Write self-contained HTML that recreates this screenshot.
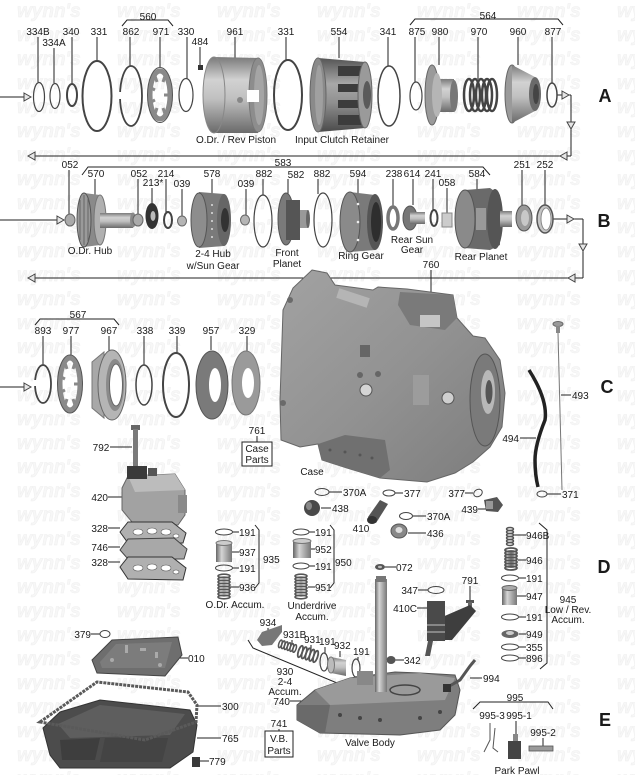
<!DOCTYPE html>
<html><head><meta charset="utf-8">
<style>
html,body{margin:0;padding:0;background:#fff;}
svg{display:block}
text{font-family:"Liberation Sans",Arial,sans-serif;font-size:10px;fill:#1a1a1a}
.m{text-anchor:middle}
.e{text-anchor:end}
.L{font-size:18px;font-weight:bold}
.wm{font-size:19px;font-weight:bold;font-style:italic;fill:#f7f7f7;stroke:#efefef;stroke-width:.5}
.ld line,.ld path,.ld polyline{stroke:#222;stroke-width:1;fill:none}
.ar{fill:#e6e6e6;stroke:#444;stroke-width:1}
.rg{fill:none;stroke:#444}
</style></head><body>
<svg width="635" height="775" viewBox="0 0 635 775" xmlns="http://www.w3.org/2000/svg">
<defs>
<pattern id="wmp" width="100" height="24" patternUnits="userSpaceOnUse">
<text x="17" y="17" class="wm">wynn's</text>
</pattern>
<linearGradient id="gH" x1="0" y1="0" x2="0" y2="1">
<stop offset="0" stop-color="#7a7a7a"/><stop offset=".3" stop-color="#d2d2d2"/><stop offset=".55" stop-color="#c0c0c0"/><stop offset="1" stop-color="#6a6a6a"/></linearGradient>
<linearGradient id="gHd" x1="0" y1="0" x2="0" y2="1">
<stop offset="0" stop-color="#555"/><stop offset=".35" stop-color="#a8a8a8"/><stop offset=".6" stop-color="#909090"/><stop offset="1" stop-color="#4a4a4a"/></linearGradient>
<linearGradient id="gV" x1="0" y1="0" x2="1" y2="0">
<stop offset="0" stop-color="#666"/><stop offset=".35" stop-color="#d5d5d5"/><stop offset="1" stop-color="#777"/></linearGradient>
<linearGradient id="gCase" x1="0" y1="0" x2="1" y2="1">
<stop offset="0" stop-color="#a2a2a2"/><stop offset=".5" stop-color="#929292"/><stop offset="1" stop-color="#7c7c7c"/></linearGradient>
</defs>
<rect width="635" height="775" fill="#fff"/>
<rect width="635" height="775" fill="url(#wmp)"/>

<!-- ================= ROW A ================= -->
<g class="ld">
<line x1="0" y1="97" x2="24" y2="97"/>
<path d="M122,26 L127,20 L168,20 L173,26"/>
<path d="M410,25 L415,19 L558,19 L563,25"/>
<line x1="38" y1="37" x2="38" y2="82"/>
<line x1="54" y1="48" x2="54" y2="83"/>
<line x1="72" y1="37" x2="72" y2="84"/>
<line x1="97" y1="37" x2="97" y2="61"/>
<line x1="130" y1="37" x2="130" y2="66"/>
<line x1="160" y1="37" x2="160" y2="67"/>
<line x1="187" y1="37" x2="187" y2="79"/>
<line x1="200" y1="47" x2="200" y2="65"/>
<line x1="235" y1="37" x2="235" y2="58"/>
<line x1="286" y1="37" x2="286" y2="60"/>
<line x1="339" y1="37" x2="339" y2="58"/>
<line x1="388" y1="37" x2="388" y2="66"/>
<line x1="415" y1="37" x2="415" y2="82"/>
<line x1="439" y1="37" x2="439" y2="65"/>
<line x1="478" y1="37" x2="478" y2="79"/>
<line x1="518" y1="37" x2="518" y2="65"/>
<line x1="552" y1="37" x2="552" y2="83"/>
<line x1="557" y1="95" x2="562" y2="95"/>
<line x1="569" y1="95" x2="571" y2="95"/>
<line x1="571" y1="95" x2="571" y2="156"/>
<line x1="28" y1="156" x2="571" y2="156"/>
</g>
<polygon class="ar" points="24,93 31,97 24,101"/>
<polygon class="ar" points="562,91 569,95 562,99"/>
<polygon class="ar" points="567,122 571,129 575,122"/>
<polygon class="ar" points="567,152 560,156 567,160"/>
<polygon class="ar" points="35,152 28,156 35,160"/>

<text x="148" y="20" class="m">560</text>
<text x="488" y="19" class="m">564</text>
<text x="38" y="35" class="m">334B</text>
<text x="54" y="46" class="m">334A</text>
<text x="71" y="35" class="m">340</text>
<text x="99" y="35" class="m">331</text>
<text x="131" y="35" class="m">862</text>
<text x="161" y="35" class="m">971</text>
<text x="186" y="35" class="m">330</text>
<text x="200" y="45" class="m">484</text>
<text x="235" y="35" class="m">961</text>
<text x="286" y="35" class="m">331</text>
<text x="339" y="35" class="m">554</text>
<text x="388" y="35" class="m">341</text>
<text x="417" y="35" class="m">875</text>
<text x="440" y="35" class="m">980</text>
<text x="479" y="35" class="m">970</text>
<text x="518" y="35" class="m">960</text>
<text x="553" y="35" class="m">877</text>
<text x="605" y="102" class="m L">A</text>
<text x="236" y="143" class="m">O.Dr. / Rev Piston</text>
<text x="342" y="143" class="m">Input Clutch Retainer</text>

<ellipse class="rg" cx="39" cy="97" rx="5.5" ry="14.5" stroke-width="1.2"/>
<ellipse class="rg" cx="55" cy="96" rx="5" ry="12.5" stroke-width="1.2"/>
<ellipse class="rg" cx="72" cy="95" rx="5" ry="11" stroke-width="2"/>
<ellipse class="rg" cx="97" cy="96" rx="14.5" ry="35" stroke-width="2"/>
<ellipse class="rg" cx="131" cy="96" rx="11" ry="30" stroke-width="1.8"/>
<rect x="118" y="92" width="4" height="7" fill="#fff"/>
<!-- 971 -->
<ellipse cx="160" cy="95" rx="10" ry="24" fill="none" stroke="#8a8a8a" stroke-width="5"/>
<ellipse cx="160" cy="95" rx="12.5" ry="27.5" fill="none" stroke="#555" stroke-width="1"/>
<g stroke="#8a8a8a" stroke-width="3">
<line x1="155" y1="76" x2="157" y2="82"/><line x1="151" y1="88" x2="155" y2="90"/><line x1="151" y1="102" x2="155" y2="100"/>
<line x1="155" y1="114" x2="157" y2="108"/><line x1="165" y1="76" x2="163" y2="82"/><line x1="168" y1="95" x2="164" y2="95"/><line x1="165" y1="114" x2="163" y2="108"/></g>
<ellipse class="rg" cx="186" cy="95" rx="7" ry="16.5" stroke-width="1.2"/>
<rect x="198" y="65" width="5" height="5" fill="#333"/>
<!-- 961 drum -->
<path d="M214,57 L258,58 L258,133 L214,133 Z" fill="url(#gH)"/>
<ellipse cx="214" cy="95" rx="11" ry="38" fill="url(#gH)" stroke="#888" stroke-width="1"/>
<ellipse cx="258" cy="95" rx="9" ry="37" fill="#8d8d8d" stroke="#777"/>
<ellipse cx="259" cy="95" rx="5" ry="30" fill="#a5a5a5"/>
<rect x="247" y="90" width="12" height="12" fill="#fff"/>
<circle cx="240" cy="100" r="3" fill="#888"/>
<ellipse class="rg" cx="288" cy="95" rx="14" ry="35" stroke-width="2"/>
<!-- input clutch retainer -->
<path d="M318,58 L365,62 L365,128 L318,132 Z" fill="url(#gHd)"/>
<ellipse cx="318" cy="95" rx="8" ry="37" fill="#8a8a8a" stroke="#666"/>
<ellipse cx="319" cy="95" rx="4" ry="30" fill="#a0a0a0"/>
<g fill="#3c3c3c"><rect x="338" y="66" width="24" height="10"/><rect x="338" y="84" width="24" height="8"/><rect x="338" y="100" width="24" height="8"/><rect x="338" y="115" width="24" height="10"/></g>
<ellipse cx="365" cy="95" rx="7" ry="33" fill="#9a9a9a" stroke="#666"/>
<ellipse cx="367" cy="95" rx="4" ry="14" fill="#5a5a5a"/>
<ellipse class="rg" cx="389" cy="96" rx="11" ry="30" stroke-width="1.5"/>
<ellipse class="rg" cx="416" cy="96" rx="6" ry="14" stroke-width="1.2"/>
<!-- 980 -->
<ellipse cx="432" cy="95" rx="7" ry="30" fill="#9a9a9a" stroke="#666"/>
<rect x="434" y="79" width="20" height="33" fill="url(#gH)"/>
<ellipse cx="437" cy="95" rx="5" ry="22" fill="#b5b5b5"/>
<ellipse cx="454" cy="96" rx="4" ry="16" fill="#777"/>
<!-- 970 springs -->
<g fill="none" stroke="#444" stroke-width="2.5">
<ellipse cx="469" cy="95" rx="5" ry="16"/><ellipse cx="475" cy="95" rx="5" ry="16"/><ellipse cx="481" cy="95" rx="5" ry="16"/><ellipse cx="487" cy="95" rx="5" ry="16"/><ellipse cx="492" cy="95" rx="5" ry="16"/></g>
<!-- 960 -->
<ellipse cx="512" cy="94" rx="7" ry="29" fill="#9a9a9a" stroke="#666"/>
<path d="M512,65 L535,77 L535,111 L512,123 Z" fill="url(#gH)"/>
<ellipse cx="535" cy="94" rx="6" ry="17" fill="#6a6a6a"/>
<ellipse cx="536" cy="94" rx="3" ry="10" fill="#444"/>
<ellipse class="rg" cx="552" cy="95" rx="5" ry="12" stroke-width="1.5"/>

<!-- ================= ROW B ================= -->
<g class="ld">
<line x1="0" y1="220" x2="57" y2="220"/>
<path d="M82,175 L88,167 L483,167 L490,175"/>
<line x1="69" y1="170" x2="69" y2="215"/>
<line x1="95" y1="179" x2="95" y2="195"/>
<line x1="138" y1="179" x2="138" y2="215"/>
<line x1="152" y1="188" x2="152" y2="203"/>
<line x1="166" y1="179" x2="166" y2="212"/>
<line x1="182" y1="189" x2="182" y2="216"/>
<line x1="212" y1="179" x2="212" y2="194"/>
<line x1="246" y1="189" x2="246" y2="215"/>
<line x1="263" y1="179" x2="263" y2="195"/>
<line x1="288" y1="179" x2="288" y2="196"/>
<line x1="318" y1="179" x2="318" y2="194"/>
<line x1="358" y1="179" x2="358" y2="195"/>
<line x1="393" y1="179" x2="393" y2="207"/>
<line x1="413" y1="179" x2="413" y2="205"/>
<line x1="433" y1="179" x2="433" y2="210"/>
<line x1="447" y1="188" x2="447" y2="213"/>
<line x1="477" y1="179" x2="477" y2="193"/>
<line x1="522" y1="170" x2="522" y2="205"/>
<line x1="545" y1="170" x2="545" y2="205"/>
<line x1="553" y1="219" x2="567" y2="219"/>
<line x1="574" y1="219" x2="583" y2="219"/>
<line x1="583" y1="219" x2="583" y2="278"/>
<line x1="28" y1="278" x2="583" y2="278"/>
</g>
<polygon class="ar" points="57,216 64,220 57,224"/>
<polygon class="ar" points="567,215 574,219 567,223"/>
<polygon class="ar" points="579,244 583,251 587,244"/>
<polygon class="ar" points="575,274 568,278 575,282"/>
<polygon class="ar" points="35,274 28,278 35,282"/>

<text x="70" y="168" class="m">052</text>
<text x="283" y="166" class="m">583</text>
<text x="96" y="177" class="m">570</text>
<text x="139" y="177" class="m">052</text>
<text x="153" y="186" class="m">213*</text>
<text x="166" y="177" class="m">214</text>
<text x="182" y="187" class="m">039</text>
<text x="212" y="177" class="m">578</text>
<text x="246" y="187" class="m">039</text>
<text x="264" y="177" class="m">882</text>
<text x="296" y="178" class="m">582</text>
<text x="322" y="177" class="m">882</text>
<text x="358" y="177" class="m">594</text>
<text x="394" y="177" class="m">238</text>
<text x="412" y="177" class="m">614</text>
<text x="433" y="177" class="m">241</text>
<text x="447" y="186" class="m">058</text>
<text x="477" y="177" class="m">584</text>
<text x="522" y="168" class="m">251</text>
<text x="545" y="168" class="m">252</text>
<text x="604" y="227" class="m L">B</text>
<text x="90" y="254" class="m">O.Dr. Hub</text>
<text x="213" y="257" class="m">2-4 Hub</text>
<text x="213" y="269" class="m">w/Sun Gear</text>
<text x="287" y="256" class="m">Front</text>
<text x="287" y="267" class="m">Planet</text>
<text x="361" y="259" class="m">Ring Gear</text>
<text x="412" y="243" class="m">Rear Sun</text>
<text x="412" y="253" class="m">Gear</text>
<text x="481" y="260" class="m">Rear Planet</text>

<ellipse cx="70" cy="220" rx="5" ry="6" fill="#aaa" stroke="#666"/>
<!-- O.Dr hub -->
<path d="M84,193 L100,195 L100,245 L84,247 Z" fill="#8a8a8a"/>
<ellipse cx="84" cy="220" rx="7" ry="27" fill="#9a9a9a" stroke="#555"/>
<g stroke="#666" stroke-width="1"><line x1="80" y1="200" x2="80" y2="240"/><line x1="84" y1="195" x2="84" y2="245"/><line x1="88" y1="199" x2="88" y2="241"/></g>
<ellipse cx="100" cy="220" rx="6" ry="25" fill="#b0b0b0" stroke="#777"/>
<rect x="100" y="213" width="33" height="15" fill="url(#gH)"/>
<ellipse cx="133" cy="220" rx="3" ry="7.5" fill="#888"/>
<ellipse cx="138" cy="220" rx="5" ry="6" fill="#aaa" stroke="#666"/>
<ellipse cx="152" cy="216" rx="6.5" ry="13" fill="#333"/>
<ellipse cx="153" cy="216" rx="2.5" ry="5" fill="#bbb"/>
<ellipse class="rg" cx="168" cy="220" rx="4" ry="8" stroke-width="2"/>
<ellipse cx="182" cy="221" rx="4.5" ry="5" fill="#b5b5b5" stroke="#666"/>
<!-- 578 -->
<path d="M199,192 L224,194 L224,246 L199,248 Z" fill="#7a7a7a"/>
<ellipse cx="199" cy="220" rx="8" ry="27" fill="#8d8d8d" stroke="#555"/>
<g fill="#ddd"><circle cx="212" cy="205" r="1"/><circle cx="212" cy="213" r="1"/><circle cx="212" cy="221" r="1"/><circle cx="212" cy="229" r="1"/><circle cx="212" cy="237" r="1"/></g>
<ellipse cx="224" cy="220" rx="7" ry="26" fill="#666"/>
<ellipse cx="225" cy="220" rx="4" ry="12" fill="#333"/>
<ellipse cx="245" cy="220" rx="4.5" ry="5" fill="#b5b5b5" stroke="#666"/>
<ellipse class="rg" cx="263" cy="221" rx="9" ry="26" stroke-width="1.2"/>
<!-- front planet -->
<ellipse cx="286" cy="219" rx="8" ry="26" fill="#7a7a7a" stroke="#555"/>
<rect x="286" y="200" width="14" height="40" fill="#555"/>
<rect x="300" y="210" width="8" height="18" fill="#999"/>
<ellipse cx="308" cy="219" rx="2" ry="9" fill="#666"/>
<ellipse class="rg" cx="323" cy="220" rx="9" ry="27" stroke-width="1.2"/>
<!-- ring gear -->
<path d="M350,192 L375,195 L375,250 L350,252 Z" fill="#7a7a7a"/>
<ellipse cx="350" cy="222" rx="10" ry="30" fill="#8a8a8a" stroke="#555"/>
<g fill="#eee"><circle cx="358" cy="204" r="1.3"/><circle cx="358" cy="222" r="1.3"/><circle cx="358" cy="240" r="1.3"/></g>
<ellipse cx="375" cy="222" rx="8" ry="28" fill="#555"/>
<ellipse cx="376" cy="222" rx="5" ry="20" fill="#2e2e2e"/>
<ellipse cx="393" cy="218" rx="5" ry="11" fill="none" stroke="#777" stroke-width="3.5"/>
<!-- 614 -->
<ellipse cx="410" cy="218" rx="7" ry="12" fill="#777" stroke="#555"/>
<rect x="410" y="212" width="15" height="12" fill="url(#gH)"/>
<ellipse class="rg" cx="434" cy="218" rx="3.5" ry="8" stroke-width="2"/>
<rect x="442" y="213" width="10" height="14" fill="#ccc" stroke="#888"/>
<!-- rear planet -->
<path d="M465,190 L490,188 L500,195 L500,245 L490,250 L465,248 Z" fill="#6a6a6a"/>
<ellipse cx="465" cy="219" rx="10" ry="29" fill="#8a8a8a" stroke="#555"/>
<ellipse cx="495" cy="219" rx="8" ry="30" fill="#555"/>
<rect x="476" y="208" width="10" height="22" fill="#999"/>
<rect x="500" y="211" width="12" height="16" fill="url(#gH)"/>
<!-- 251/252 -->
<ellipse cx="524" cy="218" rx="8" ry="13" fill="#999" stroke="#555"/>
<ellipse cx="525" cy="218" rx="4" ry="8" fill="#c8c8c8"/>
<ellipse cx="545" cy="219" rx="8" ry="14" fill="#c5c5c5" stroke="#555" stroke-width="1.5"/>
<ellipse cx="546" cy="219" rx="5" ry="11" fill="#fff" stroke="#888"/>

<!-- ================= ROW C ================= -->
<g class="ld">
<line x1="0" y1="387" x2="24" y2="387"/>
<path d="M35,325 L40,319 L114,319 L119,325"/>
<line x1="43" y1="336" x2="43" y2="365"/>
<line x1="71" y1="336" x2="71" y2="355"/>
<line x1="109" y1="336" x2="109" y2="351"/>
<line x1="144" y1="336" x2="144" y2="365"/>
<line x1="177" y1="336" x2="177" y2="353"/>
<line x1="211" y1="336" x2="211" y2="350"/>
<line x1="247" y1="336" x2="247" y2="351"/>
<line x1="257" y1="436" x2="257" y2="442"/>
<line x1="110" y1="447" x2="132" y2="447"/>
<line x1="431" y1="270" x2="431" y2="295"/>
<line x1="561" y1="395" x2="571" y2="395"/>
<line x1="520" y1="438" x2="536" y2="438"/>
<line x1="547" y1="494" x2="561" y2="494"/>
</g>
<polygon class="ar" points="24,383 31,387 24,391"/>
<text x="78" y="318" class="m">567</text>
<text x="43" y="334" class="m">893</text>
<text x="71" y="334" class="m">977</text>
<text x="109" y="334" class="m">967</text>
<text x="145" y="334" class="m">338</text>
<text x="177" y="334" class="m">339</text>
<text x="211" y="334" class="m">957</text>
<text x="247" y="334" class="m">329</text>
<text x="257" y="434" class="m">761</text>
<rect x="242" y="442" width="30" height="24" fill="#fff" stroke="#222"/>
<text x="257" y="452" class="m">Case</text>
<text x="257" y="463" class="m">Parts</text>
<text x="101" y="451" class="m">792</text>

<ellipse class="rg" cx="43" cy="384" rx="8" ry="19" stroke-width="1.8"/>
<rect x="33" y="380" width="4" height="6" fill="#fff"/>
<!-- 977 -->
<ellipse cx="70" cy="384" rx="10" ry="26" fill="none" stroke="#8a8a8a" stroke-width="5"/>
<ellipse cx="70" cy="384" rx="12.5" ry="29" fill="none" stroke="#555" stroke-width="1"/>
<g stroke="#8a8a8a" stroke-width="3">
<line x1="65" y1="363" x2="67" y2="369"/><line x1="61" y1="377" x2="65" y2="379"/><line x1="61" y1="392" x2="65" y2="390"/>
<line x1="65" y1="405" x2="67" y2="399"/><line x1="75" y1="363" x2="73" y2="369"/><line x1="78" y1="384" x2="74" y2="384"/><line x1="75" y1="405" x2="73" y2="399"/></g>
<!-- 967 -->
<path d="M92,362 L104,352 L104,418 L92,408 Z" fill="#a8a8a8" stroke="#777"/>
<ellipse cx="112" cy="385" rx="14" ry="35" fill="#b5b5b5" stroke="#666"/>
<ellipse cx="115" cy="385" rx="9" ry="26" fill="#8a8a8a"/>
<ellipse cx="116" cy="385" rx="6.5" ry="21" fill="#fff" stroke="#666"/>
<ellipse class="rg" cx="144" cy="385" rx="8" ry="20" stroke-width="1.5"/>
<ellipse class="rg" cx="176" cy="385" rx="13" ry="32" stroke-width="2"/>
<ellipse cx="212" cy="385" rx="16" ry="34" fill="#7a7a7a" stroke="#555"/>
<ellipse cx="215" cy="385" rx="6" ry="17" fill="#fff"/>
<ellipse cx="246" cy="383" rx="14" ry="32" fill="#9a9a9a" stroke="#777"/>
<ellipse cx="248" cy="383" rx="6" ry="15" fill="#fff"/>
<!-- 792 bolt -->
<rect x="131" y="425" width="9" height="5" fill="#666"/>
<rect x="133" y="429" width="5" height="37" fill="#7a7a7a"/>

<!-- CASE -->
<polygon points="312,270 327,273 335,285 373,290 378,287 407,289 430,292 453,295 457,318 473,336 485,338 500,360 505,393 502,427 490,447 473,462 455,473 427,482 380,478 347,468 322,460 318,444 300,447 281,440 280,400 283,310 293,288" fill="url(#gCase)" stroke="#666"/>
<polygon points="400,292 453,295 457,318 445,330 410,325 398,305" fill="#7a7a7a"/>
<rect x="420" y="315" width="20" height="12" fill="#c5c5c5"/>
<rect x="337" y="293" width="32" height="10" fill="#b5b5b5" transform="rotate(18 353 298)"/>
<polygon points="318,444 345,435 385,440 390,470 380,478 347,468 322,460" fill="#707070"/>
<g fill="#555"><circle cx="330" cy="450" r="1.5"/><circle cx="345" cy="452" r="1.5"/><circle cx="360" cy="455" r="1.5"/><circle cx="372" cy="458" r="1.5"/></g>
<ellipse cx="485" cy="400" rx="15" ry="46" fill="#7a7a7a" stroke="#555"/>
<ellipse cx="488" cy="392" rx="7" ry="22" fill="#b8b8b8"/>
<ellipse cx="489" cy="392" rx="3.5" ry="12" fill="#555"/>
<circle cx="366" cy="390" r="6" fill="#d5d5d5" stroke="#555"/>
<circle cx="448" cy="398" r="6" fill="#cfcfcf" stroke="#555"/>
<circle cx="360" cy="375" r="3" fill="#666"/>
<circle cx="378" cy="374" r="3" fill="#666"/>
<rect x="413" y="375" width="16" height="30" fill="#9c9c9c"/>
<rect x="360" y="345" width="10" height="12" fill="#666"/>
<circle cx="290" cy="300" r="3" fill="#6a6a6a"/>
<circle cx="283" cy="403" r="3" fill="#6a6a6a"/>
<text x="312" y="475" class="m">Case</text>
<text x="431" y="268" class="m">760</text>
<!-- dipstick / tube -->
<ellipse cx="558" cy="324" rx="5" ry="2.5" fill="#999" stroke="#666"/>
<rect x="556" y="326" width="4" height="7" fill="#888"/>
<line x1="558" y1="333" x2="562" y2="490" stroke="#777" stroke-width="1"/>
<path d="M529,370 Q548,400 545,420 Q535,445 535,460 Q535,475 538,487" fill="none" stroke="#222" stroke-width="3.5"/>
<text x="572" y="399">493</text>
<text x="519" y="442" class="e">494</text>
<ellipse class="rg" cx="542" cy="494" rx="5" ry="3" stroke-width="1"/>
<text x="562" y="498">371</text>
<text x="607" y="393" class="m L">C</text>

<!-- small parts under case -->
<g class="ld">
<line x1="329" y1="492" x2="342" y2="492"/>
<line x1="395" y1="493" x2="403" y2="493"/>
<line x1="465" y1="493" x2="473" y2="493"/>
<line x1="321" y1="508" x2="331" y2="508"/>
<line x1="478" y1="509" x2="487" y2="509"/>
<line x1="413" y1="516" x2="426" y2="516"/>
<line x1="408" y1="533" x2="426" y2="533"/>
</g>
<ellipse class="rg" cx="322" cy="492" rx="7" ry="3.5" stroke-width="1"/>
<text x="343" y="496">370A</text>
<ellipse class="rg" cx="389" cy="493" rx="6" ry="3" stroke-width="1"/>
<text x="404" y="497">377</text>
<text x="465" y="497" class="e">377</text>
<ellipse class="rg" cx="478" cy="493" rx="4.5" ry="3.5" stroke-width="1" transform="rotate(-30 478 493)"/>
<ellipse cx="312" cy="508" rx="8" ry="8" fill="#4a4a4a"/>
<ellipse cx="309" cy="506" rx="3" ry="4" fill="#888"/>
<text x="332" y="512">438</text>
<polygon points="368,517 380,500 388,504 376,523" fill="#555"/>
<ellipse cx="372" cy="520" rx="5" ry="4" fill="#333"/>
<text x="361" y="532" class="m">410</text>
<text x="478" y="513" class="e">439</text>
<polygon points="484,500 497,497 503,505 498,512 486,511" fill="#555"/>
<rect x="486" y="501" width="7" height="8" fill="#999"/>
<ellipse class="rg" cx="406" cy="516" rx="6.5" ry="3.5" stroke-width="1"/>
<text x="427" y="520">370A</text>
<ellipse cx="399" cy="531" rx="8" ry="7" fill="#888" stroke="#555"/>
<ellipse cx="399" cy="530" rx="3.5" ry="3" fill="#ddd"/>
<text x="427" y="537">436</text>

<!-- ================= ROW D ================= -->
<g class="ld">
<line x1="108" y1="497" x2="122" y2="497"/>
<line x1="108" y1="528" x2="120" y2="528"/>
<line x1="108" y1="547" x2="120" y2="547"/>
<line x1="108" y1="562" x2="120" y2="562"/>
<line x1="232" y1="532" x2="239" y2="532"/>
<line x1="232" y1="552" x2="239" y2="552"/>
<line x1="232" y1="568" x2="239" y2="568"/>
<line x1="230" y1="587" x2="239" y2="587"/>
<path d="M255,525 L259,530 L259,583 L255,588"/>
<line x1="309" y1="532" x2="315" y2="532"/>
<line x1="311" y1="549" x2="315" y2="549"/>
<line x1="309" y1="566" x2="315" y2="566"/>
<line x1="308" y1="587" x2="315" y2="587"/>
<path d="M330,525 L334,530 L334,583 L330,588"/>
<line x1="385" y1="567" x2="396" y2="567"/>
<line x1="395" y1="660" x2="404" y2="660"/>
<line x1="418" y1="590" x2="428" y2="590"/>
<line x1="470" y1="586" x2="470" y2="600"/>
<line x1="417" y1="608" x2="427" y2="608"/>
<path d="M539,523 L547,530 L547,663 L540,669"/>
<line x1="514" y1="535" x2="526" y2="535"/>
<line x1="518" y1="560" x2="526" y2="560"/>
<line x1="519" y1="578" x2="526" y2="578"/>
<line x1="517" y1="596" x2="526" y2="596"/>
<line x1="519" y1="617" x2="526" y2="617"/>
<line x1="519" y1="634" x2="526" y2="634"/>
<line x1="519" y1="647" x2="526" y2="647"/>
<line x1="519" y1="658" x2="526" y2="658"/>
<line x1="470" y1="678" x2="482" y2="678"/>
</g>
<text x="108" y="501" class="e">420</text>
<text x="108" y="532" class="e">328</text>
<text x="108" y="551" class="e">746</text>
<text x="108" y="566" class="e">328</text>
<!-- 420 -->
<polygon points="122,488 128,476 175,474 185,490 185,515 178,525 132,522 122,510" fill="#a2a2a2" stroke="#666"/>
<polygon points="128,476 175,474 185,490 135,492" fill="#bcbcbc"/>
<rect x="127" y="466" width="20" height="13" fill="#3a3a3a"/>
<rect x="148" y="468" width="9" height="8" fill="#555"/>
<rect x="178" y="495" width="9" height="18" fill="#8a8a8a"/>
<!-- gaskets -->
<polygon points="120,532 128,522 172,522 186,533 183,543 128,543" fill="#b0b0b0" stroke="#333"/>
<g fill="#fff" stroke="#555" stroke-width=".6"><ellipse cx="138" cy="532" rx="5" ry="3"/><ellipse cx="152" cy="531" rx="5" ry="3"/><ellipse cx="166" cy="532" rx="5" ry="3"/><ellipse cx="176" cy="536" rx="3" ry="2"/></g>
<polygon points="120,550 128,539 174,538 187,549 184,559 128,559" fill="#a8a8a8" stroke="#444"/>
<polygon points="120,567 128,557 172,557 186,568 183,580 128,579" fill="#b0b0b0" stroke="#333"/>
<g fill="#fff" stroke="#555" stroke-width=".6"><ellipse cx="138" cy="568" rx="5" ry="3"/><ellipse cx="152" cy="567" rx="5" ry="3"/><ellipse cx="166" cy="568" rx="5" ry="3"/><ellipse cx="176" cy="572" rx="3" ry="2"/></g>

<!-- O.Dr accum -->
<ellipse class="rg" cx="224" cy="532" rx="8.5" ry="3" stroke-width="1"/>
<rect x="216" y="543" width="16" height="19" fill="url(#gV)"/>
<ellipse cx="224" cy="543" rx="8" ry="2.5" fill="#ccc" stroke="#777"/>
<ellipse class="rg" cx="224" cy="568" rx="8.5" ry="3" stroke-width="1"/>
<g fill="none" stroke="#555" stroke-width="1.6">
<ellipse cx="224" cy="576" rx="6" ry="1.8"/><ellipse cx="224" cy="579" rx="6" ry="1.8"/><ellipse cx="224" cy="582" rx="6" ry="1.8"/><ellipse cx="224" cy="585" rx="6" ry="1.8"/><ellipse cx="224" cy="588" rx="6" ry="1.8"/><ellipse cx="224" cy="591" rx="6" ry="1.8"/><ellipse cx="224" cy="594" rx="6" ry="1.8"/><ellipse cx="224" cy="597" rx="6" ry="1.8"/></g>
<text x="239" y="536">191</text>
<text x="239" y="556">937</text>
<text x="239" y="572">191</text>
<text x="239" y="591">936</text>
<text x="263" y="563">935</text>
<text x="235" y="608" class="m">O.Dr. Accum.</text>
<!-- Underdrive -->
<ellipse class="rg" cx="301" cy="532" rx="8" ry="3" stroke-width="1"/>
<rect x="293" y="541" width="18" height="17" fill="url(#gV)"/>
<ellipse cx="302" cy="541" rx="9" ry="2.5" fill="#ccc" stroke="#777"/>
<ellipse class="rg" cx="301" cy="566" rx="8" ry="3" stroke-width="1"/>
<g fill="none" stroke="#555" stroke-width="1.6">
<ellipse cx="301" cy="576" rx="6" ry="1.8"/><ellipse cx="301" cy="579" rx="6" ry="1.8"/><ellipse cx="301" cy="582" rx="6" ry="1.8"/><ellipse cx="301" cy="585" rx="6" ry="1.8"/><ellipse cx="301" cy="588" rx="6" ry="1.8"/><ellipse cx="301" cy="591" rx="6" ry="1.8"/><ellipse cx="301" cy="594" rx="6" ry="1.8"/><ellipse cx="301" cy="597" rx="6" ry="1.8"/></g>
<text x="315" y="536">191</text>
<text x="315" y="553">952</text>
<text x="315" y="570">191</text>
<text x="315" y="591">951</text>
<text x="335" y="566">950</text>
<text x="312" y="609" class="m">Underdrive</text>
<text x="312" y="620" class="m">Accum.</text>
<!-- 072, stem -->
<ellipse cx="380" cy="567" rx="5" ry="3" fill="#555"/>
<ellipse cx="380" cy="567" rx="2" ry="1.2" fill="#bbb"/>
<text x="396" y="571">072</text>
<rect x="375" y="579" width="12" height="120" fill="url(#gV)"/>
<rect x="376" y="576" width="10" height="6" fill="#777"/>
<!-- 347, 791, 410C -->
<text x="418" y="594" class="e">347</text>
<ellipse class="rg" cx="436" cy="590" rx="8" ry="3.5" stroke-width="1"/>
<text x="470" y="584" class="m">791</text>
<rect x="466" y="600" width="8" height="3" fill="#555"/>
<rect x="468" y="602" width="4" height="7" fill="#666"/>
<text x="417" y="612" class="e">410C</text>
<polygon points="440,618 470,605 476,611 452,640 440,640" fill="#3e3e3e"/>
<rect x="427" y="601" width="18" height="40" fill="#4a4a4a"/>
<g stroke="#999" stroke-width="1.5"><line x1="427" y1="625" x2="445" y2="625"/><line x1="427" y1="632" x2="445" y2="632"/></g>
<polygon points="428,641 433,641 430,656 425,656" fill="#555"/>
<!-- 342 -->
<ellipse cx="391" cy="660" rx="4.5" ry="4" fill="#555"/>
<text x="404" y="664">342</text>
<!-- Low/Rev -->
<g fill="none" stroke="#555" stroke-width="1.5">
<ellipse cx="510" cy="529" rx="3.5" ry="1.5"/><ellipse cx="510" cy="532" rx="3.5" ry="1.5"/><ellipse cx="510" cy="535" rx="3.5" ry="1.5"/><ellipse cx="510" cy="538" rx="3.5" ry="1.5"/><ellipse cx="510" cy="541" rx="3.5" ry="1.5"/><ellipse cx="510" cy="544" rx="3.5" ry="1.5"/></g>
<g fill="none" stroke="#555" stroke-width="1.8">
<ellipse cx="511" cy="550" rx="6" ry="2"/><ellipse cx="511" cy="553" rx="6" ry="2"/><ellipse cx="511" cy="556" rx="6" ry="2"/><ellipse cx="511" cy="559" rx="6" ry="2"/><ellipse cx="511" cy="562" rx="6" ry="2"/><ellipse cx="511" cy="565" rx="6" ry="2"/><ellipse cx="511" cy="568" rx="6" ry="2"/></g>
<ellipse class="rg" cx="510" cy="578" rx="8.5" ry="3" stroke-width="1"/>
<rect x="502" y="588" width="15" height="17" fill="url(#gV)"/>
<ellipse cx="509.5" cy="588" rx="7.5" ry="2.5" fill="#aaa" stroke="#666"/>
<ellipse class="rg" cx="510" cy="617" rx="8.5" ry="3" stroke-width="1"/>
<ellipse cx="510" cy="634" rx="8.5" ry="4" fill="#666"/>
<ellipse cx="510" cy="633" rx="4" ry="2" fill="#ccc"/>
<ellipse class="rg" cx="510" cy="647" rx="8.5" ry="3" stroke-width="1"/>
<ellipse class="rg" cx="510" cy="658" rx="8.5" ry="3" stroke-width="1"/>
<text x="526" y="539">946B</text>
<text x="526" y="564">946</text>
<text x="526" y="582">191</text>
<text x="526" y="600">947</text>
<text x="526" y="621">191</text>
<text x="526" y="638">949</text>
<text x="526" y="651">355</text>
<text x="526" y="662">896</text>
<text x="568" y="603" class="m">945</text>
<text x="568" y="613" class="m">Low / Rev.</text>
<text x="568" y="623" class="m">Accum.</text>
<text x="604" y="573" class="m L">D</text>

<!-- bottom left: filter, gasket, pan -->
<g class="ld">
<line x1="91" y1="634" x2="100" y2="634"/>
<line x1="178" y1="658" x2="188" y2="658"/>
<line x1="197" y1="706" x2="221" y2="706"/>
<line x1="197" y1="738" x2="221" y2="738"/>
<line x1="200" y1="761" x2="209" y2="761"/>
</g>
<text x="91" y="638" class="e">379</text>
<ellipse class="rg" cx="105" cy="634" rx="5" ry="3.5" stroke-width="1"/>
<polygon points="92,660 112,640 178,637 182,655 165,676 97,673" fill="#6e6e6e" stroke="#444"/>
<polygon points="100,662 116,644 172,642 165,668 102,668" fill="#7c7c7c"/>
<g fill="#aaa"><rect x="125" y="645" width="3" height="8"/><rect x="140" y="648" width="6" height="3"/><rect x="155" y="652" width="3" height="6"/><circle cx="112" cy="660" r="2"/><circle cx="160" cy="665" r="2"/></g>
<text x="188" y="662">010</text>
<!-- pan -->
<polygon points="43,728 60,712 100,700 190,710 197,725 193,752 170,768 60,768 50,755" fill="#4c4c4c" stroke="#333"/>
<polygon points="58,724 100,705 185,714 170,735 70,738" fill="#5e5e5e"/>
<polygon points="60,740 100,738 95,760 62,760" fill="#3e3e3e"/>
<polygon points="105,738 168,738 162,762 100,762" fill="#444"/>
<polygon points="40,722 97,682 188,692 197,705 196,722 145,740" fill="none" stroke="#5a5a5a" stroke-width="3" stroke-dasharray="3,1"/>
<rect x="192" y="757" width="8" height="10" fill="#3a3a3a"/>
<text x="222" y="710">300</text>
<text x="222" y="742">765</text>
<text x="209" y="765">779</text>

<!-- 2-4 accum -->
<g class="ld">
<line x1="268" y1="628" x2="268" y2="633"/>
<line x1="292" y1="640" x2="292" y2="645"/>
<line x1="311" y1="645" x2="311" y2="650"/>
<line x1="325" y1="647" x2="325" y2="654"/>
<line x1="340" y1="651" x2="340" y2="657"/>
<line x1="358" y1="657" x2="358" y2="660"/>
<polyline points="248,640 253,648 337,683 345,682"/>
<line x1="290" y1="701" x2="314" y2="701"/>
<line x1="279" y1="729" x2="279" y2="731"/>
</g>
<polygon points="257,640 262,632 282,625 282,632 272,645 262,646" fill="#777"/>
<g transform="rotate(18 287 646)" fill="none" stroke="#555" stroke-width="1.5">
<ellipse cx="280" cy="646" rx="1.5" ry="4"/><ellipse cx="283" cy="646" rx="1.5" ry="4"/><ellipse cx="286" cy="646" rx="1.5" ry="4"/><ellipse cx="289" cy="646" rx="1.5" ry="4"/><ellipse cx="292" cy="646" rx="1.5" ry="4"/><ellipse cx="295" cy="646" rx="1.5" ry="4"/></g>
<g transform="rotate(18 308 654)" fill="none" stroke="#555" stroke-width="1.8">
<ellipse cx="300" cy="654" rx="2" ry="6"/><ellipse cx="304" cy="654" rx="2" ry="6"/><ellipse cx="308" cy="654" rx="2" ry="6"/><ellipse cx="312" cy="654" rx="2" ry="6"/><ellipse cx="316" cy="654" rx="2" ry="6"/></g>
<ellipse class="rg" cx="324" cy="662" rx="4" ry="9" stroke-width="1.2"/>
<path d="M331,657 L346,660 L346,676 L331,673 Z" fill="url(#gH)"/>
<ellipse cx="331" cy="665" rx="3.5" ry="8" fill="#bbb" stroke="#777"/>
<ellipse class="rg" cx="356" cy="668" rx="4" ry="9" stroke-width="1.2"/>
<text x="268" y="626" class="m">934</text>
<text x="283" y="638">931B</text>
<text x="304" y="643">931</text>
<text x="319" y="645">191</text>
<text x="334" y="649">932</text>
<text x="353" y="655">191</text>
<text x="285" y="675" class="m">930</text>
<text x="285" y="685" class="m">2-4</text>
<text x="285" y="695" class="m">Accum.</text>
<text x="290" y="705" class="e">740</text>
<text x="279" y="727" class="m">741</text>
<rect x="265" y="731" width="28" height="26" fill="#fff" stroke="#222"/>
<text x="279" y="742" class="m">V.B.</text>
<text x="279" y="754" class="m">Parts</text>
<!-- valve body -->
<polygon points="297,705 315,690 350,678 395,672 420,673 455,675 460,690 455,715 440,730 400,735 320,733 297,720" fill="#7e7e7e" stroke="#555"/>
<polygon points="315,690 350,678 420,673 455,678 445,700 330,705" fill="#9a9a9a"/>
<polygon points="297,705 330,705 325,733 320,733 297,720" fill="#6a6a6a"/>
<rect x="357" y="671" width="16" height="14" fill="#888"/>
<ellipse cx="405" cy="690" rx="15" ry="5" fill="none" stroke="#444" stroke-width="1.5"/>
<g fill="#444"><circle cx="340" cy="715" r="2"/><circle cx="360" cy="718" r="2"/><circle cx="380" cy="720" r="2"/><circle cx="420" cy="718" r="2"/><circle cx="440" cy="712" r="2"/></g>
<rect x="375" y="660" width="12" height="32" fill="url(#gV)"/>
<text x="370" y="746" class="m">Valve Body</text>
<!-- 994 -->
<polyline points="446,688 460,680 470,666 475,660" fill="none" stroke="#555" stroke-width="3"/>
<rect x="443" y="684" width="8" height="8" fill="#333"/>
<text x="483" y="682">994</text>

<!-- E -->
<g class="ld">
<path d="M473,709 L480,702 L548,702 L553,709"/>
<line x1="516" y1="721" x2="516" y2="735"/>
<line x1="543" y1="738" x2="543" y2="746"/>
</g>
<text x="515" y="701" class="m">995</text>
<text x="492" y="719" class="m">995-3</text>
<text x="519" y="719" class="m">995-1</text>
<text x="543" y="736" class="m">995-2</text>
<polyline points="490,723 490,740 484,752" fill="none" stroke="#555" stroke-width="1"/>
<polyline points="495,728 493,748 498,752" fill="none" stroke="#555" stroke-width="1"/>
<rect x="513" y="734" width="5" height="7" fill="#888"/>
<rect x="508" y="741" width="13" height="18" fill="#444"/>
<rect x="529" y="746" width="24" height="5" fill="#9a9a9a" stroke="#555" stroke-width=".8"/>
<text x="517" y="774" class="m">Park Pawl</text>
<text x="605" y="726" class="m L">E</text>
</svg>
</body></html>
